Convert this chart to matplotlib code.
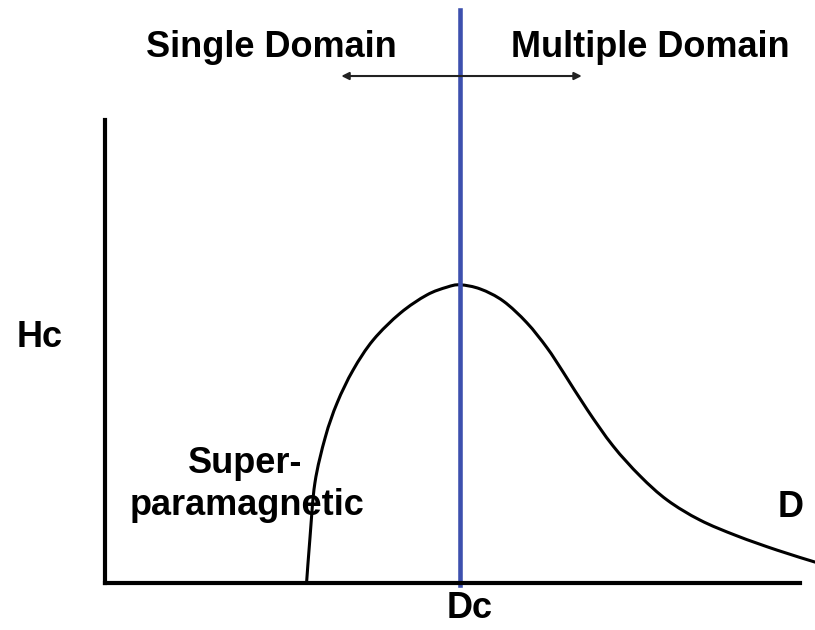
import numpy as np
import matplotlib
matplotlib.use('agg')
import matplotlib.pyplot as plt
from matplotlib.path import Path
from matplotlib.patches import PathPatch

# particle size D (arbitrary units) and coercivity Hc (arbitrary units)
D = [29.0, 29.5, 30.2, 31.7, 33.4, 35.7, 38.6, 42.5, 46.3, 49.2, 51.1,
     54.0, 57.3, 60.7, 63.6, 65.9, 69.4, 73.1, 77.0, 80.9, 85.6, 90.9, 96.7, 102.2]
Hc = [0.0, 9.9, 21.6, 31.5, 38.9, 46.0, 52.5, 58.3, 62.2, 63.9, 64.4,
      63.5, 60.9, 56.2, 50.8, 45.6, 37.4, 29.6, 23.1, 17.9, 13.6, 10.2, 7.1, 4.5]
Dc = 51.1

plt.rcParams['font.family'] = ['Liberation Sans', 'DejaVu Sans']

fig = plt.figure(figsize=(8.15, 6.30), dpi=100)
ax = fig.add_axes([105 / 815, (630 - 583) / 630, 695 / 815, 463 / 630])
ax.set_xlim(0, 100)
ax.set_ylim(0, 100)


def smooth_path(x, y):
    # catmull-rom through the points, drawn as cubic bezier segments
    p = np.column_stack([x, y]).astype(float)
    p = np.vstack([p[0], p, p[-1]])
    verts = [tuple(p[1])]
    codes = [Path.MOVETO]
    for i in range(1, len(p) - 2):
        c1 = p[i] + (p[i + 1] - p[i - 1]) / 6
        c2 = p[i + 1] - (p[i + 2] - p[i]) / 6
        verts += [tuple(c1), tuple(c2), tuple(p[i + 1])]
        codes += [Path.CURVE4] * 3
    return Path(verts, codes)


curve = PathPatch(smooth_path(D, Hc), facecolor='none', edgecolor='black',
                  lw=2.2, clip_on=False, capstyle='round')
ax.add_patch(curve)
ax.axvline(Dc, ymin=-0.005, ymax=1.238, color='#3d50ae', lw=3.3, clip_on=False)

ax.annotate('', xy=(34.0, 109.5), xytext=(68.6, 109.5),
            arrowprops=dict(arrowstyle='<|-|>', color='#222222', lw=1.5,
                            mutation_scale=11, shrinkA=0, shrinkB=0),
            annotation_clip=False)

for s in ['top', 'right']:
    ax.spines[s].set_visible(False)
ax.spines['left'].set_linewidth(3.0)
ax.spines['bottom'].set_linewidth(3.0)
ax.set_xticks([])
ax.set_yticks([])

kw = dict(fontsize=26, fontweight='bold', va='baseline', ha='center', clip_on=False)
ax.text(24.0, 113.6, 'Single Domain', **kw)
ax.text(78.4, 113.6, 'Multiple Domain', **kw)
ax.text(-9.4, 51.0, 'Hc', **kw)
ax.text(20.1, 23.8, 'Super-', **kw)
ax.text(20.4, 14.7, 'paramagnetic', **kw)
ax.text(98.6, 14.3, 'D', **kw)
ax.text(52.4, -7.6, 'Dc', **kw)

fig.savefig('out.png', dpi=100)
